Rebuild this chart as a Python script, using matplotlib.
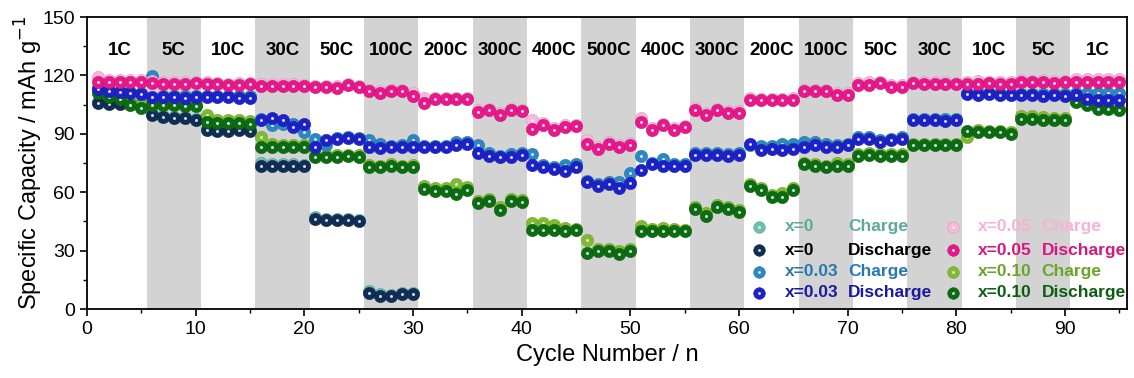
import matplotlib
matplotlib.use("Agg")
import matplotlib.pyplot as plt
import matplotlib.colors as mcolors
import numpy as np

plt.rcParams["font.family"] = ["Liberation Sans", "DejaVu Sans"]

rates = ["1C", "5C", "10C", "30C", "50C", "100C", "200C", "300C", "400C", "500C",
         "400C", "300C", "200C", "100C", "50C", "30C", "10C", "5C", "1C"]

# x = 0 (cell died after 100C)
charge_x0 = [106.2, 106.0, 105.8, 106.2, 105.6, 100.0, 99.2, 98.8, 98.8, 97.6,
             92.8, 92.2, 92.4, 92.4, 92.0, 75.0, 74.6, 74.6, 74.4, 74.2,
             47.4, 46.4, 46.0, 46.0, 45.8, 9.2, 7.6, 7.4, 8.2, 8.4]
discharge_x0 = [105.7, 105.4, 105.2, 105.6, 105.0, 99.5, 98.6, 98.3, 98.3, 97.0,
                92.2, 91.7, 91.7, 91.9, 91.4, 73.7, 73.7, 73.7, 73.7, 73.4,
                46.4, 45.9, 45.5, 45.5, 45.2, 8.4, 6.7, 6.7, 7.6, 7.6]

charge_x003 = [113.6, 112.6, 111.8, 111.4, 111.2, 119.5, 109.6, 109.4, 109.2, 109.4,
               109.4, 109.4, 109.6, 109.2, 109.2, 97.8, 94.5, 95.0, 95.2, 91.0,
               87.5, 84.0, 88.0, 88.4, 88.0, 86.6, 84.8, 83.8, 84.0, 86.6,
               83.8, 83.8, 83.8, 85.8, 85.6, 84.1, 80.0, 78.6, 79.6, 80.0,
               79.7, 74.2, 73.0, 74.0, 74.4, 66.0, 64.4, 65.2, 65.0, 70.0,
               78.8, 75.2, 77.1, 74.4, 74.4, 80.0, 80.0, 80.0, 79.6, 80.0,
               84.0, 83.6, 83.6, 84.6, 84.6, 85.8, 85.8, 84.8, 84.0, 85.0,
               88.2, 88.6, 87.0, 87.4, 88.2, 97.8, 97.8, 97.6, 97.6, 97.8,
               111.0, 110.8, 111.0, 110.8, 110.6, 110.6, 110.6, 110.4, 110.6, 110.4,
               111.0, 111.2, 110.8, 110.8, 111.0]
discharge_x003 = [113.0, 112.0, 111.4, 110.8, 110.6, 109.0, 108.8, 108.8, 108.6, 108.8,
                  108.8, 108.9, 109.0, 108.6, 108.6, 97.3, 98.3, 96.9, 93.4, 95.1,
                  83.2, 86.6, 87.5, 88.0, 87.5, 83.0, 82.6, 83.2, 83.2, 83.2,
                  83.2, 83.2, 83.2, 84.1, 84.9, 80.0, 78.8, 77.9, 77.9, 79.3,
                  74.2, 73.2, 72.0, 71.1, 73.2, 65.1, 63.4, 64.3, 62.2, 64.6,
                  71.4, 74.5, 73.7, 73.7, 73.7, 79.3, 79.3, 79.3, 78.8, 79.3,
                  84.9, 81.5, 82.3, 81.5, 82.3, 83.2, 84.1, 83.2, 83.2, 84.1,
                  87.5, 87.5, 85.8, 86.6, 87.5, 96.9, 96.9, 96.9, 96.6, 96.9,
                  110.2, 110.0, 110.4, 110.0, 109.8, 109.8, 109.8, 109.6, 109.8, 109.6,
                  109.8, 108.1, 107.2, 107.2, 107.2]

charge_x005 = [119.0, 117.8, 117.6, 117.4, 117.6, 117.0, 116.6, 116.6, 116.4, 116.8,
               116.4, 116.2, 115.8, 116.0, 116.2, 115.4, 115.4, 115.4, 115.4, 115.2,
               114.8, 114.6, 114.4, 115.6, 114.6, 112.6, 111.8, 112.4, 112.6, 111.0,
               108.2, 108.4, 108.6, 108.6, 108.4, 102.2, 102.8, 100.6, 102.8, 102.4,
               97.3, 95.6, 93.2, 94.4, 94.6, 86.8, 83.4, 85.6, 84.2, 85.2,
               98.3, 93.0, 95.0, 93.0, 94.2, 103.4, 100.6, 102.8, 101.6, 101.6,
               108.2, 108.0, 108.0, 108.0, 108.2, 112.6, 112.6, 112.4, 110.8, 111.0,
               116.2, 116.4, 116.8, 115.2, 115.2, 116.8, 116.4, 116.6, 116.4, 116.2,
               116.6, 117.0, 116.8, 116.4, 116.6, 117.4, 117.2, 117.4, 117.0, 117.2,
               118.0, 118.4, 118.2, 118.0, 118.4]
discharge_x005 = [116.5, 116.8, 116.6, 116.4, 116.6, 116.2, 115.8, 115.8, 115.6, 116.0,
                  115.6, 115.4, 115.0, 115.2, 115.4, 114.6, 114.6, 114.6, 114.6, 114.4,
                  114.0, 113.8, 113.6, 115.0, 113.8, 111.8, 111.0, 111.8, 111.8, 109.6,
                  105.8, 107.7, 108.0, 108.0, 107.7, 101.2, 102.1, 99.5, 102.1, 101.6,
                  92.7, 94.7, 92.2, 93.5, 93.9, 84.9, 82.3, 84.9, 83.2, 84.4,
                  96.0, 91.8, 94.3, 92.2, 93.5, 102.1, 99.5, 102.1, 100.8, 100.8,
                  107.2, 107.2, 107.2, 107.2, 107.4, 111.8, 111.8, 111.8, 110.1, 110.1,
                  115.2, 115.2, 116.0, 114.3, 114.3, 116.0, 115.6, 115.8, 115.6, 115.4,
                  115.6, 115.8, 116.0, 115.6, 115.8, 116.6, 116.4, 116.6, 116.2, 116.4,
                  116.6, 116.8, 116.6, 116.4, 116.6]

charge_x010 = [112.4, 110.6, 109.6, 106.0, 104.6, 105.4, 105.4, 105.6, 105.0, 105.2,
               99.5, 97.0, 97.2, 97.0, 96.8, 88.4, 85.0, 84.4, 84.2, 84.0,
               79.2, 79.0, 79.0, 79.2, 79.0, 74.0, 73.6, 74.4, 73.6, 74.0,
               63.0, 62.0, 62.0, 64.0, 62.6, 55.6, 56.4, 52.6, 56.6, 56.0,
               44.0, 44.0, 43.4, 41.6, 41.2, 35.4, 30.8, 30.8, 29.6, 30.8,
               42.8, 41.0, 41.6, 41.0, 40.8, 52.6, 49.4, 53.2, 52.4, 50.8,
               64.2, 62.4, 58.6, 59.6, 62.0, 75.2, 74.6, 73.6, 74.8, 74.6,
               79.8, 80.0, 79.8, 79.6, 79.8, 85.0, 85.0, 84.8, 84.8, 85.0,
               88.5, 92.0, 91.6, 91.6, 91.0, 99.2, 99.0, 98.4, 98.2, 98.0,
               107.0, 105.4, 103.8, 103.6, 103.0]
discharge_x010 = [110.9, 108.9, 108.1, 104.6, 103.4, 104.6, 104.6, 104.8, 104.2, 104.4,
                  96.2, 95.4, 95.6, 95.4, 95.2, 83.2, 83.4, 83.2, 83.2, 83.0,
                  78.0, 78.2, 78.0, 78.4, 78.0, 73.2, 72.8, 73.7, 72.8, 73.2,
                  61.6, 60.8, 60.8, 59.1, 61.1, 54.3, 55.3, 50.9, 55.6, 55.0,
                  40.5, 40.5, 40.5, 40.2, 40.5, 29.0, 29.9, 29.9, 28.5, 29.9,
                  40.2, 40.2, 40.0, 40.2, 40.0, 51.4, 48.0, 52.3, 51.4, 49.7,
                  63.4, 61.1, 57.4, 57.4, 61.1, 74.5, 73.7, 72.8, 73.7, 73.7,
                  78.6, 79.0, 78.8, 78.6, 78.8, 84.0, 84.2, 84.0, 84.0, 84.2,
                  91.7, 90.9, 90.9, 90.9, 90.0, 97.7, 97.7, 96.9, 96.9, 96.9,
                  106.3, 104.6, 102.9, 102.9, 102.1]

# (values, marker colour, legend label, legend text colour)
series = [
    (charge_x0, "#6cc0ae", ("x=0", "Charge"), "#5bab9a"),
    (discharge_x0, "#0f2d55", ("x=0", "Discharge"), "#000000"),
    (charge_x010, "#7fbb30", ("x=0.10", "Charge"), "#6aa52a"),
    (discharge_x010, "#0c6c12", ("x=0.10", "Discharge"), "#0b5e10"),
    (charge_x003, "#2b88c2", ("x=0.03", "Charge"), "#2878b0"),
    (discharge_x003, "#1c22c8", ("x=0.03", "Discharge"), "#1a1aa0"),
    (charge_x005, "#f7b8da", ("x=0.05", "Charge"), "#f5b3d6"),
    (discharge_x005, "#e8178a", ("x=0.05", "Discharge"), "#d3187f"),
]


def darker(c, f=0.85):
    r, g, b = mcolors.to_rgb(c)
    return (r * f, g * f, b * f)


def sphere(ax, x, y, color, s=78, z=3, **kw):
    ax.scatter(x, y, s=s, color=color, edgecolors=[darker(color)], linewidths=0.4, zorder=z, **kw)
    ax.scatter(x, y, s=s * 0.06, color="#eef2ff", alpha=0.9, linewidths=0, zorder=z + 0.1, **kw)


fig = plt.figure(figsize=(11.34, 3.78), dpi=100)
ax = fig.add_axes([0.0767, 0.1825, 0.917, 0.7725])

n_seg = 5
for i in range(1, len(rates), 2):
    ax.axvspan(i * n_seg + 0.5, i * n_seg + n_seg + 0.5, color="#d3d3d3", lw=0, zorder=0)

for i, r in enumerate(rates):
    ax.text(i * n_seg + 3, 133, r, ha="center", va="center", fontsize=13.5, fontweight="bold")

for k, (vals, col, lab, tcol) in enumerate(series):
    cyc = np.arange(1, len(vals) + 1)
    sphere(ax, cyc, vals, col, z=3 + k * 0.2)

ax.set_xlim(0, 95.7)
ax.set_ylim(0, 150)
ax.set_xticks(np.arange(0, 91, 10))
ax.set_xticks(np.arange(5, 96, 10), minor=True)
ax.set_yticks(np.arange(0, 151, 30))
ax.set_yticks(np.arange(15, 150, 30), minor=True)
ax.tick_params(which="major", direction="out", length=5, width=1.2, labelsize=14)
ax.tick_params(which="minor", direction="out", length=3, width=1.0)
for sp in ax.spines.values():
    sp.set_linewidth(1.3)

ax.set_xlabel("Cycle Number / n", fontsize=17)
ax.set_ylabel("Specific Capacity / mAh g$^{-1}$", fontsize=17)
ax.xaxis.set_label_coords(0.5, -0.12)
ax.yaxis.set_label_coords(-0.04, 0.5)

# hand-made legend: two columns, four rows
leg_order = [0, 1, 4, 5, 6, 7, 2, 3]
col_x = [(0.646, 0.671, 0.732), (0.833, 0.857, 0.918)]
row_y = [0.281, 0.202, 0.127, 0.055]
for j, idx in enumerate(leg_order):
    vals, col, (sample, kind), tcol = series[idx]
    mx, tx1, tx2 = col_x[j // 4]
    yy = row_y[j % 4]
    sphere(ax, [mx], [yy], col, s=70, z=10, transform=ax.transAxes, clip_on=False)
    ax.text(tx1, yy, sample, color=tcol, fontsize=12.5, fontweight="bold",
            ha="left", va="center", transform=ax.transAxes, zorder=10)
    ax.text(tx2, yy, kind, color=tcol, fontsize=12.5, fontweight="bold",
            ha="left", va="center", transform=ax.transAxes, zorder=10)

fig.savefig("out.png", dpi=100)
